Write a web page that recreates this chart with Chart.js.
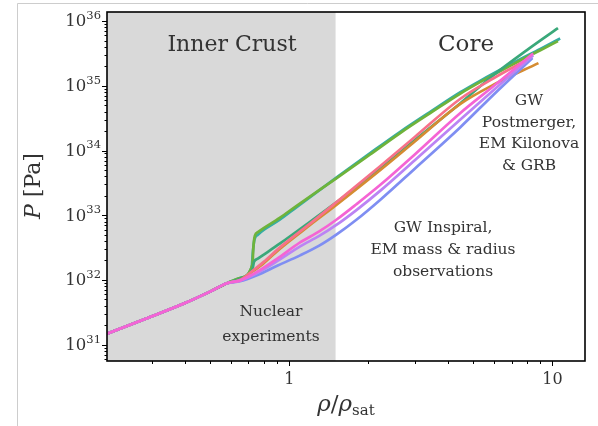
<!DOCTYPE html>
<html>
<head>
<meta charset="utf-8">
<script src="https://cdn.jsdelivr.net/npm/chart.js@4.4.0/dist/chart.umd.min.js"></script>
<style>
  html, body { margin: 0; padding: 0; background: #fff; }
  canvas { display: block; }
</style>
</head>
<body>
<canvas id="eos" width="598" height="426"></canvas>
<script>
// density in units of rho_sat, pressure stored as log10(P / Pa)
const crustRho  = [0.203, 0.28, 0.4, 0.5, 0.58];
const crustLogP = [31.17, 31.39, 31.64, 31.82, 31.95];

const magentaRho  = [0.65, 0.75, 0.9, 1.1, 1.3, 1.51, 1.8, 2.22, 3.0, 4.47, 6.0, 8.45];
const magentaLogP = [31.99, 32.12, 32.33, 32.58, 32.75, 32.93, 33.17, 33.47, 33.94, 34.58, 35.0, 35.5];

const purpleRho  = [0.65, 0.75, 0.9, 1.1, 1.3, 1.51, 1.8, 2.22, 3.0, 4.47, 6.0, 8.45];
const purpleLogP = [31.99, 32.1, 32.29, 32.52, 32.68, 32.85, 33.08, 33.38, 33.85, 34.48, 34.94, 35.47];

const blueRho  = [0.65, 0.75, 0.9, 1.1, 1.3, 1.51, 1.8, 2.22, 3.0, 4.47, 6.0, 8.4];
const blueLogP = [31.98, 32.07, 32.22, 32.38, 32.53, 32.7, 32.93, 33.24, 33.72, 34.36, 34.87, 35.43];

const salmonRho  = [0.65, 0.73, 0.8, 0.92, 1.2, 1.51, 2.22, 3.0, 4.47, 6.0, 8.25];
const salmonLogP = [32.0, 32.15, 32.28, 32.5, 32.87, 33.2, 33.76, 34.21, 34.8, 35.12, 35.43];

const orangeRho  = [0.65, 0.73, 0.8, 0.92, 1.2, 1.51, 2.22, 3.0, 4.47, 6.0, 8.85];
const orangeLogP = [32.0, 32.14, 32.26, 32.48, 32.85, 33.16, 33.7, 34.14, 34.72, 35.02, 35.35];

const greenRho  = [0.65, 0.725, 0.735, 0.76, 0.92, 1.2, 1.51, 2.22, 3.0, 4.47, 6.0, 8.0, 10.5];
const greenLogP = [32.02, 32.17, 32.28, 32.33, 32.56, 32.9, 33.2, 33.72, 34.16, 34.73, 35.17, 35.55, 35.89];

const oliveRho  = [0.65, 0.725, 0.73, 0.74, 0.76, 0.92, 1.07, 1.51, 2.03, 2.64, 3.5, 4.47, 5.33, 7.0, 9.0, 10.5];
const oliveLogP = [32.03, 32.24, 32.48, 32.68, 32.74, 32.96, 33.15, 33.57, 33.94, 34.27, 34.6, 34.88, 35.06, 35.32, 35.55, 35.69];

const tealRho  = [0.65, 0.72, 0.727, 0.737, 0.76, 0.92, 1.07, 1.51, 2.03, 2.64, 3.5, 4.47, 5.33, 7.0, 9.0, 10.7];
const tealLogP = [32.03, 32.2, 32.42, 32.62, 32.7, 32.93, 33.13, 33.58, 33.96, 34.29, 34.62, 34.9, 35.08, 35.34, 35.57, 35.73];

const crustEdge = 1.5;
const xMin = 0.203, xMax = 13.3;
const yMin = 5.6e30, yMax = 1.38e36;
const xTickLabels = [1, 10];
const yTickExps = [31, 32, 33, 34, 35, 36];

function series(rho, logP) {
  const pts = crustRho.map((r, i) => ({x: r, y: Math.pow(10, crustLogP[i])}));
  rho.forEach((r, i) => pts.push({x: r, y: Math.pow(10, logP[i])}));
  return pts;
}

function line(rho, logP, color) {
  return {
    data: series(rho, logP),
    borderColor: color,
    borderWidth: 2.7,
    pointRadius: 0,
    cubicInterpolationMode: 'monotone',
    fill: false
  };
}

const SERIF = '"DejaVu Serif", "Liberation Serif", serif';
const TXT = '#333';

function drawLines(ctx, lines, cx, y0, dy) {
  lines.forEach((t, i) => ctx.fillText(t, cx, y0 + i * dy));
}

const decor = {
  id: 'decor',
  beforeDraw(chart) {
    const c = chart.ctx;
    c.save();
    c.fillStyle = '#fff';
    c.fillRect(0, 0, chart.width, chart.height);
    c.strokeStyle = '#cdcdcd';
    c.lineWidth = 1;
    c.beginPath();
    c.moveTo(17.5, chart.height);
    c.lineTo(17.5, 3.5);
    c.lineTo(chart.width, 3.5);
    c.stroke();
    c.restore();
  },
  beforeDatasetsDraw(chart) {
    const {ctx, chartArea: a, scales: {x}} = chart;
    const xe = x.getPixelForValue(crustEdge);
    ctx.save();
    ctx.fillStyle = '#d9d9d9';
    ctx.fillRect(a.left, a.top, xe - a.left, a.bottom - a.top);
    ctx.restore();
  },
  afterDatasetsDraw(chart) {
    const {ctx, chartArea: a, scales: {x, y}} = chart;
    ctx.save();

    // region labels
    ctx.fillStyle = TXT;
    ctx.textAlign = 'center';
    ctx.textBaseline = 'middle';
    ctx.font = '22px ' + SERIF;
    ctx.fillText('Inner Crust', 232, 45);
    ctx.font = '23px ' + SERIF;
    ctx.fillText('Core', 466, 45);
    ctx.font = '15.5px ' + SERIF;
    drawLines(ctx, ['GW', 'Postmerger,', 'EM Kilonova', '& GRB'], 529, 101, 21.7);
    drawLines(ctx, ['GW Inspiral,', 'EM mass & radius', 'observations'], 443, 228, 22);
    drawLines(ctx, ['Nuclear', 'experiments'], 271, 312, 25);

    // frame
    ctx.strokeStyle = '#000';
    ctx.lineWidth = 1.6;
    ctx.strokeRect(a.left, a.top, a.right - a.left, a.bottom - a.top);

    // ticks
    ctx.lineWidth = 1;
    ctx.beginPath();
    for (let e = -1; e <= 1; e++) {
      for (let m = 1; m <= 9; m++) {
        const v = m * Math.pow(10, e);
        if (v < xMin || v > xMax) continue;
        const px = Math.round(x.getPixelForValue(v)) + 0.5;
        ctx.moveTo(px, a.bottom);
        ctx.lineTo(px, a.bottom + (m === 1 ? 5 : 3));
      }
    }
    for (let e = 30; e <= 36; e++) {
      for (let m = 1; m <= 9; m++) {
        const v = m * Math.pow(10, e);
        if (v < yMin || v > yMax) continue;
        const py = Math.round(y.getPixelForValue(v)) + 0.5;
        ctx.moveTo(a.left, py);
        ctx.lineTo(a.left - (m === 1 ? 5 : 2.5), py);
      }
    }
    ctx.stroke();

    // tick labels
    ctx.fillStyle = TXT;
    ctx.font = '16px ' + SERIF;
    ctx.textAlign = 'center';
    xTickLabels.forEach(v => ctx.fillText(String(v), x.getPixelForValue(v), 380));

    yTickExps.forEach(e => {
      const py = y.getPixelForValue(Math.pow(10, e));
      ctx.font = '11.5px ' + SERIF;
      ctx.textAlign = 'right';
      const ew = ctx.measureText(String(e)).width;
      ctx.fillText(String(e), 101, py - 5);
      ctx.font = '16.5px ' + SERIF;
      ctx.fillText('10', 101 - ew, py + 1);
    });

    // axis titles
    ctx.save();
    ctx.translate(34, 186);
    ctx.rotate(-Math.PI / 2);
    ctx.textAlign = 'left';
    ctx.font = 'italic 22px ' + SERIF;
    const pW = ctx.measureText('P').width;
    ctx.font = '22px ' + SERIF;
    const restW = ctx.measureText(' [Pa]').width;
    const start = -(pW + restW) / 2;
    ctx.font = 'italic 22px ' + SERIF;
    ctx.fillText('P', start, 0);
    ctx.font = '22px ' + SERIF;
    ctx.fillText(' [Pa]', start + pW, 0);
    ctx.restore();

    ctx.textAlign = 'left';
    ctx.font = 'italic 23px ' + SERIF;
    const r1 = ctx.measureText('\u03C1').width;
    ctx.font = '23px ' + SERIF;
    const sl = ctx.measureText('/').width;
    ctx.font = '15px ' + SERIF;
    const sat = ctx.measureText('sat').width;
    let tx = (a.left + a.right) / 2 - (2 * r1 + sl + sat) / 2;
    const ty = 405;
    ctx.font = 'italic 23px ' + SERIF;
    ctx.fillText('\u03C1', tx, ty); tx += r1;
    ctx.font = '23px ' + SERIF;
    ctx.fillText('/', tx, ty); tx += sl;
    ctx.font = 'italic 23px ' + SERIF;
    ctx.fillText('\u03C1', tx, ty); tx += r1;
    ctx.font = '15px ' + SERIF;
    ctx.fillText('sat', tx, ty + 6);

    ctx.restore();
  }
};

new Chart(document.getElementById('eos'), {
  type: 'line',
  data: {
    datasets: [
      line(magentaRho, magentaLogP, '#f564d4'),
      line(purpleRho, purpleLogP, '#bb83f4'),
      line(blueRho, blueLogP, '#7f8ef2'),
      line(salmonRho, salmonLogP, '#f77189'),
      line(orangeRho, orangeLogP, '#d58c32'),
      line(greenRho, greenLogP, '#3aa87a'),
      line(oliveRho, oliveLogP, '#6fb33a'),
      line(tealRho, tealLogP, '#36ada4')
    ]
  },
  options: {
    responsive: false,
    animation: false,
    layout: { padding: { left: 107, top: 12, right: 13, bottom: 65 } },
    plugins: { legend: { display: false }, tooltip: { enabled: false } },
    scales: {
      x: { type: 'logarithmic', min: xMin, max: xMax, display: false },
      y: { type: 'logarithmic', min: yMin, max: yMax, display: false }
    }
  },
  plugins: [decor]
});
</script>
</body>
</html>
